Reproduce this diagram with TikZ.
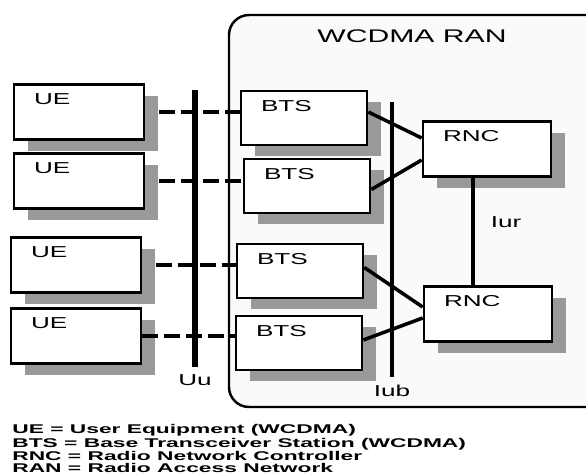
\documentclass[tikz,border=0pt]{standalone}
\usepackage{fontspec}
\setmainfont{Liberation Sans}[FakeStretch=1.65]
\newfontfamily\legendfont{Liberation Sans}[FakeStretch=1.8]
\usetikzlibrary{shadows}

\tikzset{
  box/.style={draw, line width=1.5pt, fill=white, minimum width=26mm, minimum height=11mm,
    drop shadow={shadow xshift=2.8mm, shadow yshift=-2.2mm, fill=black!40, opacity=1}},
  lbl/.style={anchor=north west, inner sep=0pt, xshift=4.2mm, yshift=-2mm},
  bar/.style={line width=3.2pt},
  air/.style={line width=1.8pt, dash pattern=on 9pt off 3.5pt},
  link/.style={line width=2pt}
}

\begin{document}
\begin{tikzpicture}[x=0.2mm, y=-0.2mm]
\clip (0,0) rectangle (586,475);
\fontsize{9}{11}\selectfont
% the RAN area
\draw[line width=1.4pt, fill=black!2, rounded corners=4mm] (229,15) rectangle (612,407);
\node (ran) at (412,36) {\fontsize{10.4}{12}\selectfont WCDMA RAN};
% user equipment
\node[box, label={[lbl]north west:UE}] (ue1) at (79,112) {};
\node[box, label={[lbl]north west:UE}] (ue2) at (79,181) {};
\node[box, label={[lbl]north west:UE}] (ue3) at (76,265) {};
\node[box, label={[lbl]north west:UE}] (ue4) at (76,336) {};
% base stations
\node[box, minimum width=25.2mm, minimum height=10.8mm, label={[lbl]north west:BTS}] (bts1) at (304,118) {};
\node[box, minimum width=25.2mm, minimum height=10.8mm, label={[lbl]north west:BTS}] (bts2) at (307,186) {};
\node[box, minimum width=25.2mm, minimum height=10.8mm, label={[lbl]north west:BTS}] (bts3) at (300,271) {};
\node[box, minimum width=25.2mm, minimum height=10.8mm, label={[lbl]north west:BTS}] (bts4) at (299,343) {};
% controllers
\node[box, minimum width=25.6mm, label={[lbl]north west:RNC}] (rnc1) at (487,149) {};
\node[box, minimum width=25.6mm, label={[lbl]north west:RNC}] (rnc2) at (488,314) {};
% Uu and Iub
\coordinate (uutop) at (195,90);
\coordinate (uubot) at (195,367);
\coordinate (iubtop) at (392,102);
\coordinate (iubbot) at (392,377);
\draw[air] ([xshift=2.8mm]ue1.east) -- (ue1.east -| bts1.west);
\draw[air] ([xshift=2.8mm]ue2.east) -- (ue2.east -| bts2.west);
\draw[air] ([xshift=2.8mm]ue3.east) -- (ue3.east -| bts3.west);
\draw[air] (ue4.east) -- (ue4.east -| bts4.west);
\draw[bar] (uutop) -- (uubot) node[below] (uu) {Uu};
\draw[link] ([yshift=1.2mm]bts1.east) -- ([yshift=2.2mm]rnc1.west);
\draw[link] ([yshift=-0.7mm]bts2.east) -- ([yshift=-2.2mm]rnc1.west);
\draw[link] ([yshift=0.7mm]bts3.east) -- ([yshift=1.4mm]rnc2.west);
\draw[link] ([yshift=0.6mm]bts4.east) -- ([yshift=-0.8mm]rnc2.west);
\draw[bar, line width=2.8pt] (iubtop) -- (iubbot) node[below] (iub) {Iub};
% Iur
\draw[line width=2.6pt] ([xshift=-2.8mm]rnc1.south) -- ([xshift=-2.8mm]rnc1.south |- rnc2.north);
\node (iur) at (506,222) {Iur};
% legend
\node[anchor=north west, align=left, inner sep=0pt,
  font=\legendfont\bfseries\fontsize{7.2}{6.6}\selectfont] (legend) at (12,424)
  {UE = User Equipment (WCDMA)\\
   BTS = Base Transceiver Station (WCDMA)\\
   RNC = Radio Network Controller\\
   RAN = Radio Access Network};
\end{tikzpicture}
\end{document}
